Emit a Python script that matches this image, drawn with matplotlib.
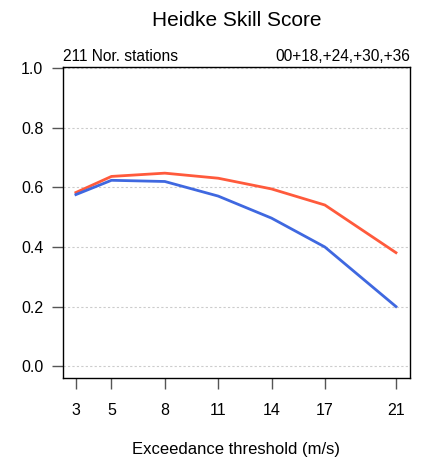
import matplotlib
matplotlib.use("Agg")
import matplotlib.pyplot as plt

plt.rcParams['font.family'] = ['Liberation Sans', 'DejaVu Sans']

thresholds = [3, 5, 8, 11, 14, 17, 21]
hss_red = [0.583, 0.637, 0.648, 0.631, 0.595, 0.541, 0.381]
hss_blue = [0.576, 0.624, 0.620, 0.571, 0.497, 0.400, 0.200]
y_ticks = [0.0, 0.2, 0.4, 0.6, 0.8, 1.0]

fig = plt.figure(figsize=(4.28, 4.61), dpi=100)
ax = fig.add_axes([0.147, 0.180, 0.811, 0.675])

for yv in y_ticks:
    ax.axhline(yv, color='#cccccc', linestyle=(0, (2, 2)), linewidth=0.8, zorder=1)

ax.plot(thresholds, hss_red, color='#ff5a3c', linewidth=2, zorder=3)
ax.plot(thresholds, hss_blue, color='#3f68e0', linewidth=2, zorder=3)

ax.set_xlim(2.27, 21.79)
ax.set_ylim(-0.04, 1.005)
ax.set_xticks(thresholds)
ax.set_yticks(y_ticks)
ax.set_yticklabels(['%.1f' % v for v in y_ticks])
ax.tick_params(axis='both', direction='out', length=8, width=1, labelsize=11.5, color='#555555')
ax.tick_params(axis='x', pad=10)
ax.tick_params(axis='y', pad=6)
for s in ax.spines.values():
    s.set_linewidth(1)

ax.set_xlabel('Exceedance threshold (m/s)', fontsize=12, labelpad=17)
fig.text(0.552, 0.955, 'Heidke Skill Score', ha='center', va='center', fontsize=15)
ax.text(0.0, 1.01, '211 Nor. stations', transform=ax.transAxes, ha='left', va='bottom', fontsize=11.2)
ax.text(1.0, 1.01, '00+18,+24,+30,+36', transform=ax.transAxes, ha='right', va='bottom', fontsize=11.2)

fig.savefig('out.png', dpi=100)
